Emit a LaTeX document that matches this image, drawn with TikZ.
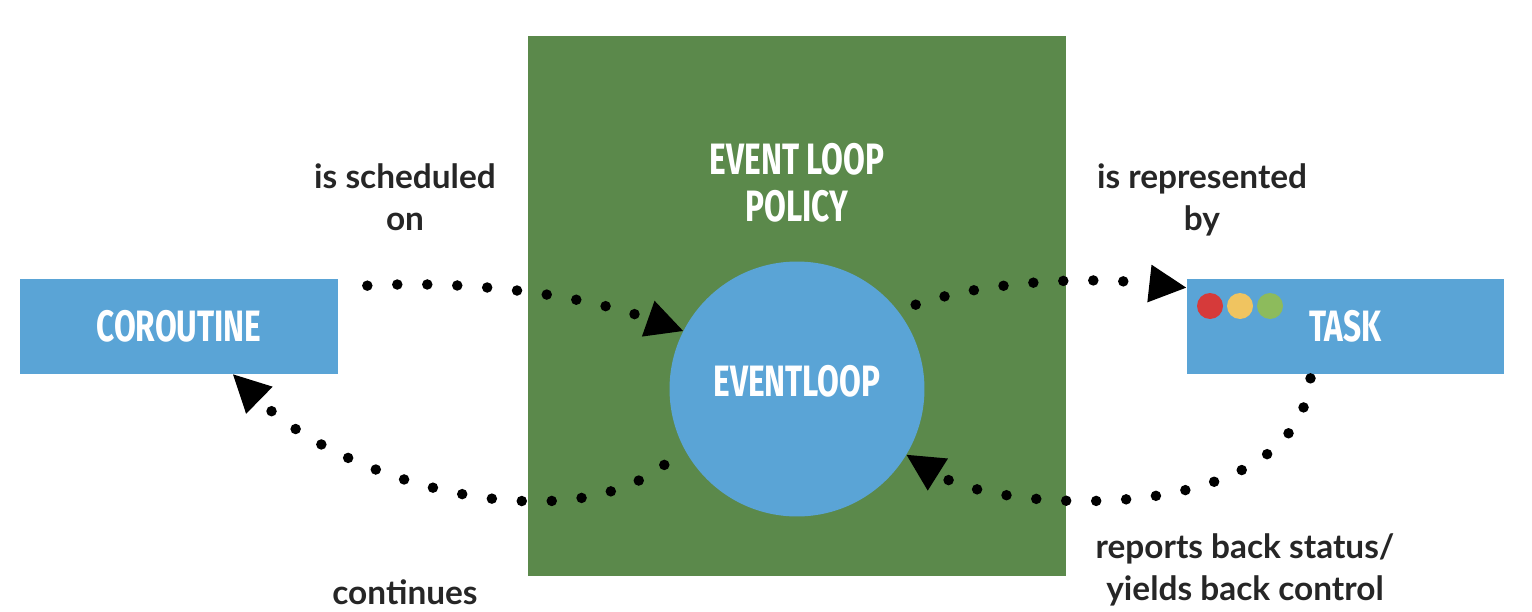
\documentclass[tikz,border=0pt]{standalone}
\usepackage{fontspec}
\setmainfont{Lato}
\newfontfamily\dinfont[FakeStretch=0.72]{Fira Sans}
\usetikzlibrary{arrows.meta}
\definecolor{policygreen}{RGB}{91,137,75}
\definecolor{loopblue}{RGB}{90,164,214}
\definecolor{taskred}{RGB}{214,58,58}
\definecolor{taskyellow}{RGB}{240,196,96}
\definecolor{taskgreen}{RGB}{141,187,92}

\begin{document}
\begin{tikzpicture}[x=0.02cm,y=-0.02cm,>={Triangle[length=7.4mm,width=7.6mm,line width=0pt]}]
        \tikzstyle{box}=[rectangle, fill=loopblue, text=white, minimum width=6.36cm, minimum height=1.9cm, inner sep=0pt, font=\dinfont\bfseries\fontsize{25}{27}\selectfont]
        \tikzstyle{title}=[align=center, text=white, inner sep=0pt, font=\dinfont\bfseries\fontsize{25}{27}\selectfont]
        \tikzstyle{note}=[align=center, text=black!85, inner sep=0pt, font=\bfseries\fontsize{19}{24}\selectfont]
        \tikzstyle{light}=[circle, inner sep=0pt, minimum size=0.52cm]
        \tikzstyle{flow}=[->, line width=0.21cm, line cap=round, dash pattern=on 0pt off 0.6cm]
        \useasboundingbox[fill=white] (0,0) rectangle (1532,612);
        \node[rectangle, fill=policygreen, minimum width=10.76cm, minimum height=10.8cm] (policy) at (797,306) {};
        \node[title] (policytitle) at (797,183) {EVENT LOOP\\POLICY};
        \node[circle, fill=loopblue, minimum size=5.1cm, inner sep=0pt, text=white, text height=0.64cm, text depth=0.36cm, font=\dinfont\bfseries\fontsize{25}{27}\selectfont] (loop) at (797,389) {EVENTLOOP};
        \node[box] (coroutine) at (179,326.5) {COROUTINE};
        \node[box] (task) at (1345.5,326.5) {TASK};
        \node[light, fill=taskred] (red) at (1210,306) {};
        \node[light, fill=taskyellow] (yellow) at (1240,306) {};
        \node[light, fill=taskgreen] (green) at (1270,306) {};
        \node[note] (scheduled) at (405,197) {is scheduled\\on};
        \node[note] (represented) at (1202,200) {is represented\\by};
        \node[note, anchor=base] (continues) at (405,604) {continues};
        \node[note] (reports) at (1245,570) {reports back status/\\yields back control};
        \draw[flow] ([shift={(29,7)}]coroutine.north east) .. controls +(103,-6) and +(-102,-36) .. (loop.153);
        \draw[flow] ([shift={(14,-11)}]loop.35) .. controls +(65,-22) and +(-107,-12) .. ([shift={(0,9)}]task.north west);
        \draw[flow] ([shift={(-35,4)}]task.south) .. controls +(-15,152) and +(92,58) .. (loop.-31);
        \draw[flow] ([shift={(-22,12)}]loop.210) .. controls +(-105,80) and +(107,105) .. ([shift={(54,0)}]coroutine.south);
\end{tikzpicture}
\end{document}
